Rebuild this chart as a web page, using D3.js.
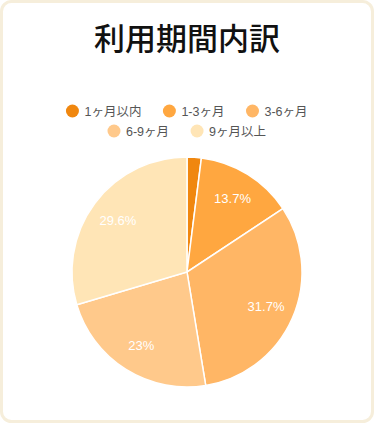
<!DOCTYPE html>
<html lang="ja">
<head>
  <meta charset="UTF-8">
  <title>利用期間内訳</title>
  <style>
    html, body { margin: 0; padding: 0; background: #fff; }
    svg { display: block; }
  </style>
</head>
<body>
  <svg id="chart" width="374" height="423"></svg>

  <script src="https://cdn.jsdelivr.net/npm/d3@7"></script>
  <script>
    var categories = ["1ヶ月以内", "1-3ヶ月", "3-6ヶ月", "6-9ヶ月", "9ヶ月以上"];
    var values = [2.0, 13.7, 31.7, 23, 29.6];
    var colors = ["#f0870f", "#ffa740", "#ffb665", "#ffc98b", "#ffe5b6"];
    var legendRows = [[0, 1, 2], [3, 4]];

    var svg = d3.select("#chart"),
        width = +svg.attr("width"),
        height = +svg.attr("height"),
        cx = 187, cy = 272, r = 115;

    // card
    svg.append("rect")
      .attr("x", 1.5).attr("y", 1.5)
      .attr("width", width - 3).attr("height", height - 3)
      .attr("rx", 10)
      .attr("fill", "#fff")
      .attr("stroke", "#f6eedb")
      .attr("stroke-width", 3);

    svg.append("text")
      .attr("x", width / 2).attr("y", 50)
      .attr("text-anchor", "middle")
      .attr("font-family", "'Noto Sans CJK JP', sans-serif")
      .attr("font-size", 31)
      .attr("font-weight", 500)
      .attr("fill", "#111")
      .text("利用期間内訳");

    var color = d3.scaleOrdinal().domain(categories).range(colors);

    // legend, rows centered
    var legend = svg.append("g")
      .attr("font-family", "'Liberation Sans', 'Noto Sans CJK JP', sans-serif")
      .attr("font-size", 12.5)
      .attr("fill", "#555");

    legendRows.forEach(function (row, ri) {
      var g = legend.append("g");
      var x = 0;
      row.forEach(function (i) {
        var item = g.append("g").attr("transform", "translate(" + x + ",0)");
        item.append("circle").attr("cx", 6).attr("cy", 0).attr("r", 6.5)
          .attr("fill", color(categories[i]));
        var t = item.append("text").attr("x", 18).attr("y", 4.5).text(categories[i]);
        x += 18 + t.node().getComputedTextLength() + 22;
      });
      var w = x - 22;
      g.attr("transform", "translate(" + ((width - w) / 2) + "," + (111 + ri * 20) + ")");
    });

    // pie
    var pie = d3.pie().sort(null).value(function (d) { return d.value; });
    var data = categories.map(function (c, i) { return { name: c, value: values[i] }; });
    var arc = d3.arc().innerRadius(0).outerRadius(r);
    var labelArc = d3.arc().innerRadius(r * 0.75).outerRadius(r * 0.75);

    var g = svg.append("g").attr("transform", "translate(" + cx + "," + cy + ")");
    var arcs = pie(data);

    g.selectAll("path")
      .data(arcs)
      .enter().append("path")
      .attr("d", arc)
      .attr("fill", function (d) { return color(d.data.name); })
      .attr("stroke", "#fff")
      .attr("stroke-width", 1.5);

    g.selectAll("text")
      .data(arcs.filter(function (d) { return d.data.value >= 5; }))
      .enter().append("text")
      .attr("transform", function (d) { return "translate(" + labelArc.centroid(d) + ")"; })
      .attr("text-anchor", "middle")
      .attr("dy", "0.35em")
      .attr("font-family", "'Liberation Sans', Arial, sans-serif")
      .attr("font-size", 13)
      .attr("fill", "#fff")
      .text(function (d) { return d.data.value + "%"; });
  </script>
</body>
</html>
